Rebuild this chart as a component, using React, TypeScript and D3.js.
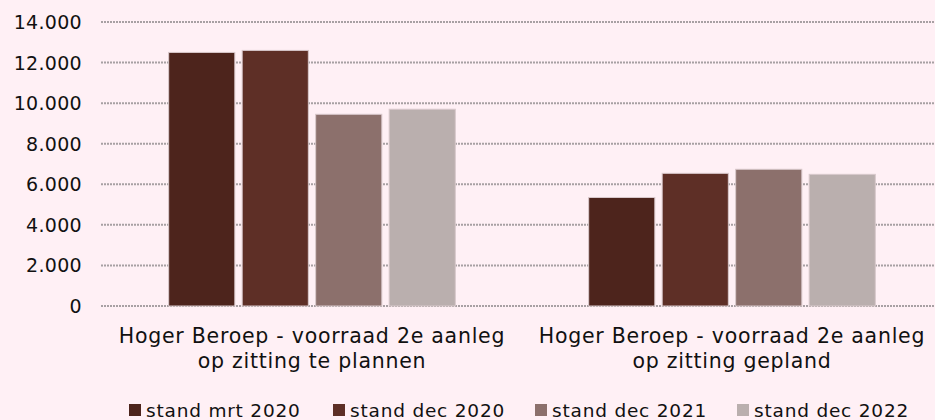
import React from "react";
import * as d3 from "d3";

const categories = [
  ["Hoger Beroep - voorraad 2e aanleg", "op zitting te plannen"],
  ["Hoger Beroep - voorraad 2e aanleg", "op zitting gepland"],
];
const seriesNames = ["stand mrt 2020", "stand dec 2020", "stand dec 2021", "stand dec 2022"];
const seriesColors = ["#4D241C", "#5E2F26", "#8C706C", "#BAAFAE"];
const valuesMrt2020 = [12500, 5350];
const valuesDec2020 = [12600, 6540];
const valuesDec2021 = [9450, 6740];
const valuesDec2022 = [9700, 6490];
const yTicks = [0, 2000, 4000, 6000, 8000, 10000, 12000, 14000];

const seriesValues = [valuesMrt2020, valuesDec2020, valuesDec2021, valuesDec2022];

const W = 935;
const H = 420;
const FONT = "DejaVu Sans, Verdana, sans-serif";

export default function App() {
  const y = d3.scaleLinear().domain([0, 14000]).range([306, 22]);
  const x0 = d3
    .scaleBand<number>()
    .domain(categories.map((_, i) => i))
    .range([102, 942])
    .paddingInner(0)
    .paddingOuter(0);
  const x1 = d3
    .scaleBand<number>()
    .domain(seriesNames.map((_, i) => i))
    .range([63, 420 - 63])
    .paddingInner(0.1)
    .paddingOuter(0.05);
  const fmt = (v: number) => (v === 0 ? "0" : d3.format(",")(v).replace(/,/g, "."));

  const legendX = [129, 333, 535, 737];

  return (
    <svg
      width={W}
      height={H}
      style={{ position: "absolute", left: 0, top: 0, background: "#FFF0F5" }}
    >
      <rect x={0} y={0} width={W} height={H} fill="#FFF0F5" />
      {yTicks.map((t) => (
        <g key={t}>
          <line
            x1={101}
            x2={W}
            y1={y(t)}
            y2={y(t)}
            stroke="#A8A0A3"
            strokeWidth={2}
            strokeDasharray="2,1"
          />
          <text
            x={82}
            y={y(t)}
            dy="0.37em"
            textAnchor="end"
            fontFamily={FONT}
            fontSize={19}
            letterSpacing={0.3}
            fill="#111"
          >
            {fmt(t)}
          </text>
        </g>
      ))}
      {categories.map((cat, ci) => (
        <g key={ci} transform={`translate(${x0(ci)},0)`}>
          {seriesValues.map((vals, si) => (
            <rect
              key={si}
              x={x1(si)}
              y={y(vals[ci])}
              width={x1.bandwidth()}
              height={y(0) - y(vals[ci])}
              fill={seriesColors[si]}
              stroke="#D9C9CC"
              strokeWidth={1}
            />
          ))}
          {cat.map((line, li) => (
            <text
              key={li}
              x={x0.bandwidth() / 2}
              y={343 + li * 25}
              textAnchor="middle"
              fontFamily={FONT}
              fontSize={20.5}
              letterSpacing={0.75}
              fill="#111"
            >
              {line}
            </text>
          ))}
        </g>
      ))}
      {seriesNames.map((name, si) => (
        <g key={si}>
          <rect x={legendX[si]} y={404} width={12} height={12} fill={seriesColors[si]} />
          <text
            x={legendX[si] + 17}
            y={417}
            fontFamily={FONT}
            fontSize={18.5}
            letterSpacing={0.8}
            fill="#111"
          >
            {name}
          </text>
        </g>
      ))}
    </svg>
  );
}
